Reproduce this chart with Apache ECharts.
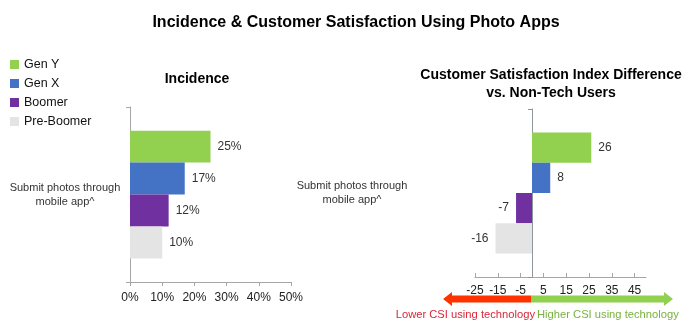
<!DOCTYPE html>
<html><head><meta charset="utf-8">
<script src="https://cdn.jsdelivr.net/npm/echarts@6/dist/echarts.min.js"></script>
<style>html,body{margin:0;padding:0;background:#fff}#c{width:695px;height:335px}</style>
</head><body><div id="c"></div>
<script>
const categories = ['Submit photos through\nmobile app^'];
const seriesNames = ['Gen Y', 'Gen X', 'Boomer', 'Pre-Boomer'];
const incidence = [25, 17, 12, 10];
const csiDiff = [26, 8, -7, -16];
const incidenceTicks = [0, 10, 20, 30, 40, 50];
const csiTicks = [-25, -15, -5, 5, 15, 25, 35, 45];
const colors = ['#92D050', '#4472C4', '#7030A0', '#E4E4E4'];

const font = 'Liberation Sans, Arial, sans-serif';
const chart = echarts.init(document.getElementById('c'), null, {renderer: 'canvas'});

const series = [];
seriesNames.forEach((n, i) => {
  series.push({
    name: n, type: 'bar', xAxisIndex: 0, yAxisIndex: 0,
    barGap: '0%', barCategoryGap: '27%',
    itemStyle: {color: colors[i]},
    label: {show: true, position: 'right', distance: 7, formatter: '{c}%', color: '#333', fontSize: 12, fontFamily: font},
    data: [incidence[i]]
  });
});
seriesNames.forEach((n, i) => {
  const v = csiDiff[i];
  series.push({
    name: n, type: 'bar', xAxisIndex: 1, yAxisIndex: 1,
    barGap: '0%', barCategoryGap: '28%',
    itemStyle: {color: colors[i]},
    label: {show: true, position: v >= 0 ? 'right' : 'left', distance: 7, formatter: '{c}', color: '#333', fontSize: 12, fontFamily: font},
    data: [v]
  });
});

chart.setOption({
  animation: false,
  textStyle: {fontFamily: font},
  title: [
    {text: 'Incidence & Customer Satisfaction Using Photo Apps', left: 356, textAlign: 'center', top: 15, padding: 0,
     textStyle: {fontSize: 16, fontWeight: 'bold', color: '#000', fontFamily: font}},
    {text: 'Incidence', left: 197, textAlign: 'center', top: 72, padding: 0,
     textStyle: {fontSize: 14, fontWeight: 'bold', color: '#000', fontFamily: font}},
    {text: 'Customer Satisfaction Index Difference\nvs. Non-Tech Users', left: 551, textAlign: 'center', top: 66, padding: 0,
     textStyle: {fontSize: 14, fontWeight: 'bold', color: '#000', lineHeight: 18, fontFamily: font}}
  ],
  legend: {
    orient: 'vertical', left: 10, top: 58, padding: 0, itemWidth: 9, itemHeight: 9, itemGap: 6,
    icon: 'rect', data: seriesNames,
    textStyle: {fontSize: 12.5, color: '#111', fontFamily: font}
  },
  grid: [
    {left: 130, width: 161, top: 107, height: 175},
    {left: 475, width: 171, top: 109, height: 168}
  ],
  xAxis: [
    {gridIndex: 0, type: 'value', min: incidenceTicks[0], max: incidenceTicks[incidenceTicks.length - 1], interval: 10,
     axisLine: {show: true, lineStyle: {color: '#A6A6A6'}}, axisTick: {show: true, length: 4, lineStyle: {color: '#A6A6A6'}},
     splitLine: {show: false},
     axisLabel: {formatter: '{value}%', color: '#222', fontSize: 12, margin: 10, fontFamily: font}},
    {gridIndex: 1, type: 'value', min: csiTicks[0], max: 50, interval: 10,
     axisLine: {show: true, onZero: false, lineStyle: {color: '#A6A6A6'}}, axisTick: {show: true, inside: true, length: 4, lineStyle: {color: '#A6A6A6'}},
     splitLine: {show: false},
     axisLabel: {showMaxLabel: false, color: '#222', fontSize: 12, margin: 8, fontFamily: font}}
  ],
  yAxis: [
    {gridIndex: 0, type: 'category', data: categories, inverse: true,
     axisLine: {show: true, lineStyle: {color: '#A6A6A6'}}, axisTick: {show: true, length: 4, lineStyle: {color: '#A6A6A6'}},
     axisLabel: {align: 'center', margin: 65, color: '#333', fontSize: 11, lineHeight: 14, fontFamily: font}},
    {gridIndex: 1, type: 'category', data: categories, inverse: true,
     axisLine: {show: true, onZero: true, lineStyle: {color: '#8E969E'}}, axisTick: {show: true, length: 4, lineStyle: {color: '#8E969E'}},
     axisLabel: {align: 'center', margin: 123, color: '#333', fontSize: 11, lineHeight: 14, fontFamily: font}}
  ],
  graphic: [
    {type: 'polygon', shape: {points: [[443, 299], [452, 292], [452, 295.5], [531, 295.5], [531, 302.5], [452, 302.5], [452, 306]]},
     style: {fill: '#FF3300'}},
    {type: 'polygon', shape: {points: [[673, 299], [664, 292], [664, 295.5], [531, 295.5], [531, 302.5], [664, 302.5], [664, 306]]},
     style: {fill: '#92D050'}},
    {type: 'text', x: 535, y: 315, style: {text: 'Lower CSI using technology', textAlign: 'right', textVerticalAlign: 'middle',
      fill: '#D9263A', font: '11.2px ' + font}},
    {type: 'text', x: 537, y: 315, style: {text: 'Higher CSI using technology', textAlign: 'left', textVerticalAlign: 'middle',
      fill: '#78B23E', font: '11.2px ' + font}}
  ],
  series: series
});
</script></body></html>
